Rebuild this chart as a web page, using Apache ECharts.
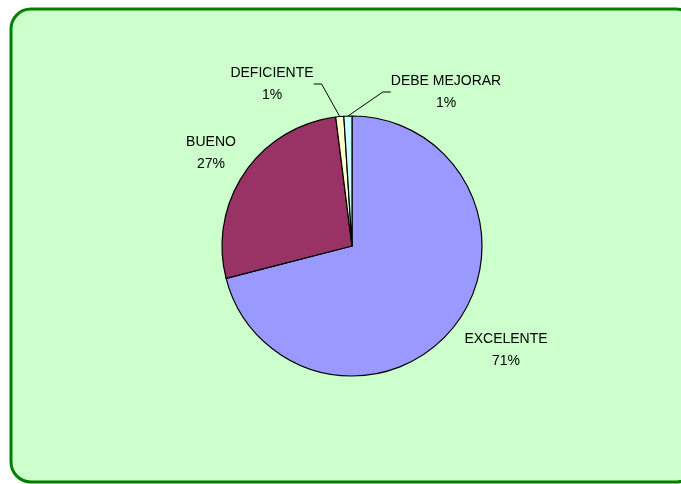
<!DOCTYPE html>
<html>
<head>
<meta charset="utf-8">
<script src="https://cdn.jsdelivr.net/npm/echarts@6/dist/echarts.min.js"></script>
<style>
html,body{margin:0;padding:0;background:#fff;}
#chart{width:681px;height:484px;}
</style>
</head>
<body>
<div id="chart"></div>
<script>
const categories = ['EXCELENTE', 'BUENO', 'DEFICIENTE', 'DEBE MEJORAR'];
const values = [71, 27, 1, 1];
const colors = ['#9999FF', '#993366', '#FFFFCC', '#CCFFFF'];
const showLeader = [false, false, true, true];
const labelCenters = [[506, 350], [211, 153], [272, 84], [446, 92]];

const chart = echarts.init(document.getElementById('chart'), null, {renderer: 'canvas'});
const data = categories.map((c, i) => ({
  name: c,
  value: values[i],
  itemStyle: {color: colors[i]},
  labelLine: {show: showLeader[i]}
}));

chart.setOption({
  animation: false,
  backgroundColor: '#ffffff',
  graphic: [{
    type: 'rect',
    z: -10,
    silent: true,
    shape: {x: 11, y: 9, width: 685, height: 473, r: 20},
    style: {fill: '#CCFFCC', stroke: '#008000', lineWidth: 3}
  }],
  series: [{
    type: 'pie',
    center: [352, 246],
    radius: 130,
    startAngle: 90,
    clockwise: true,
    avoidLabelOverlap: false,
    itemStyle: {borderColor: '#000000', borderWidth: 1.2},
    label: {
      show: true,
      position: 'outside',
      formatter: p => p.name + '\n' + p.value + '%',
      color: '#000000',
      fontFamily: '"Liberation Sans", Arial, sans-serif',
      fontSize: 14,
      lineHeight: 22,
      align: 'center'
    },
    labelLine: {
      length: 10,
      length2: 8,
      lineStyle: {color: '#000000', width: 1}
    },
    labelLayout: function (params) {
      const p = labelCenters[params.dataIndex];
      return {x: p[0], y: p[1], align: 'center', verticalAlign: 'middle'};
    },
    emphasis: {disabled: true},
    data: data
  }]
});
</script>
</body>
</html>
